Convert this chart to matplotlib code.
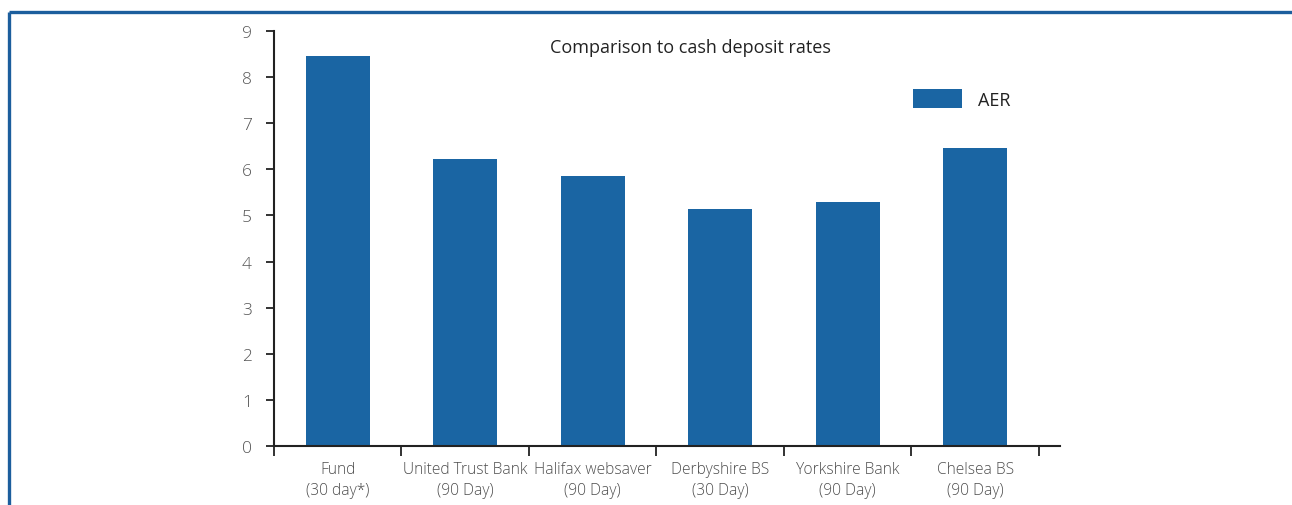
import matplotlib
matplotlib.use("Agg")
import matplotlib.pyplot as plt
from matplotlib.lines import Line2D
import numpy as np

categories = ["Fund\n(30 day*)", "United Trust Bank\n(90 Day)", "Halifax websaver\n(90 Day)",
              "Derbyshire BS\n(30 Day)", "Yorkshire Bank\n(90 Day)", "Chelsea BS\n(90 Day)"]
aer = [8.45, 6.23, 5.86, 5.13, 5.30, 6.47]
yticks = list(range(0, 10))

plt.rcParams['font.family'] = ['Open Sans', 'DejaVu Sans']

W, H = 1292, 506
fig = plt.figure(figsize=(W/100, H/100), dpi=100)
ax = fig.add_axes([274/W, 1-447/H, (1060-274)/W, (447-32)/H])

bar_color = "#1a65a3"
x = np.arange(len(categories))
ax.bar(x, aer, width=0.5, color=bar_color, label="AER", zorder=2)

ax.set_ylim(0, 9)
ax.set_xlim(-0.5, 6.165 - 0.5)
ax.set_yticks(yticks)
ax.set_yticklabels([str(t) for t in yticks], fontsize=12.5, color="#555555", fontweight=300)
ax.set_xticks(x)
ax.set_xticklabels(categories, fontsize=11.2, color="#4d4d4d", fontweight=300, linespacing=1.4)
ax.tick_params(axis='x', length=0, pad=11)
ax.tick_params(axis='y', length=6, width=1.3, color="#222222", pad=10, direction='out')
ax.set_xticks(np.arange(len(categories) + 1) - 0.5, minor=True)
ax.tick_params(axis='x', which='minor', length=7, width=1.3, color="#222222", direction='out')

for s in ["top", "right"]:
    ax.spines[s].set_visible(False)
for s in ["left", "bottom"]:
    ax.spines[s].set_linewidth(1.5)
    ax.spines[s].set_color("#222222")

ax.text((690-274)/786, (447-48)/415, "Comparison to cash deposit rates", transform=ax.transAxes,
        ha="center", va="center", fontsize=13, color="#222222")

leg = ax.legend(loc="upper left", bbox_to_anchor=((906-274)/786, (447-83)/415),
                frameon=False, fontsize=13, handlelength=2.7, handleheight=1.25,
                handletextpad=0.9, borderaxespad=0)
for t in leg.get_texts():
    t.set_color("#222222")

frame_color = "#1c5e9d"
fig.add_artist(Line2D([8.5/W, 1.0], [1-12.5/H, 1-12.5/H], transform=fig.transFigure,
                      color=frame_color, linewidth=2.4, solid_capstyle='butt'))
fig.add_artist(Line2D([8.5/W, 8.5/W], [1-12.5/H, 0], transform=fig.transFigure,
                      color=frame_color, linewidth=2.4, solid_capstyle='butt'))

fig.savefig("out.png", dpi=100)
